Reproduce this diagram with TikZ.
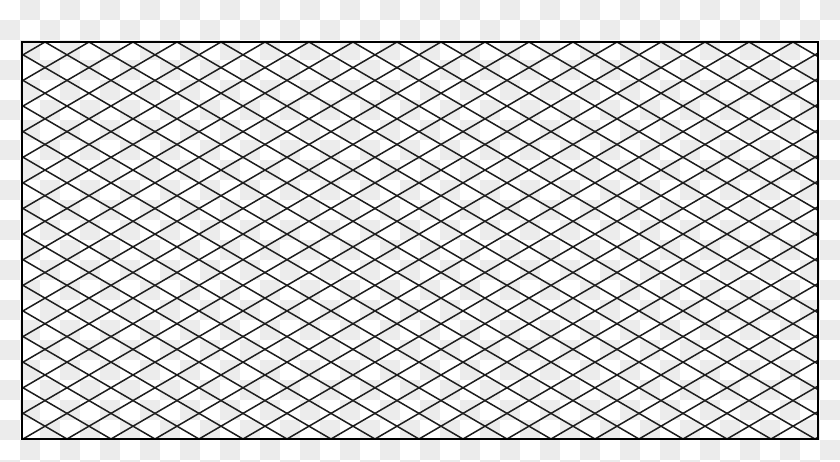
\documentclass[tikz,border=0pt]{standalone}
\definecolor{checkgray}{RGB}{236,236,236}
\definecolor{gridink}{RGB}{30,30,30}
\begin{document}
\begin{tikzpicture}[x=1pt,y=-1pt,
  gridline/.style={draw=gridink, line width=1.5pt},
  frameline/.style={draw=black, line width=2.6pt}]
\useasboundingbox (0,0) rectangle (840,461);
\clip (0,0) rectangle (840,461);
\fill[white] (0,0) rectangle (840,461);
\foreach \i in {0,...,41}{
  \foreach \j in {0,...,23}{
    \pgfmathtruncatemacro\oddcell{mod(\i+\j,2)}
    \ifnum\oddcell=1 \fill[checkgray] (20*\i,20*\j) rectangle ++(20,20);\fi
  }
}
\begin{scope}
  \clip (22,42) rectangle (818,439);
  \foreach \k in {-17,...,34}{
    \draw[gridline] ({45+44*\k},42) -- ++(704,409.8);
    \draw[gridline] ({45+44*\k},42) -- ++(-704,409.8);
  }
\end{scope}
\draw[frameline] (22,42) rectangle (818,439);
\end{tikzpicture}
\end{document}
